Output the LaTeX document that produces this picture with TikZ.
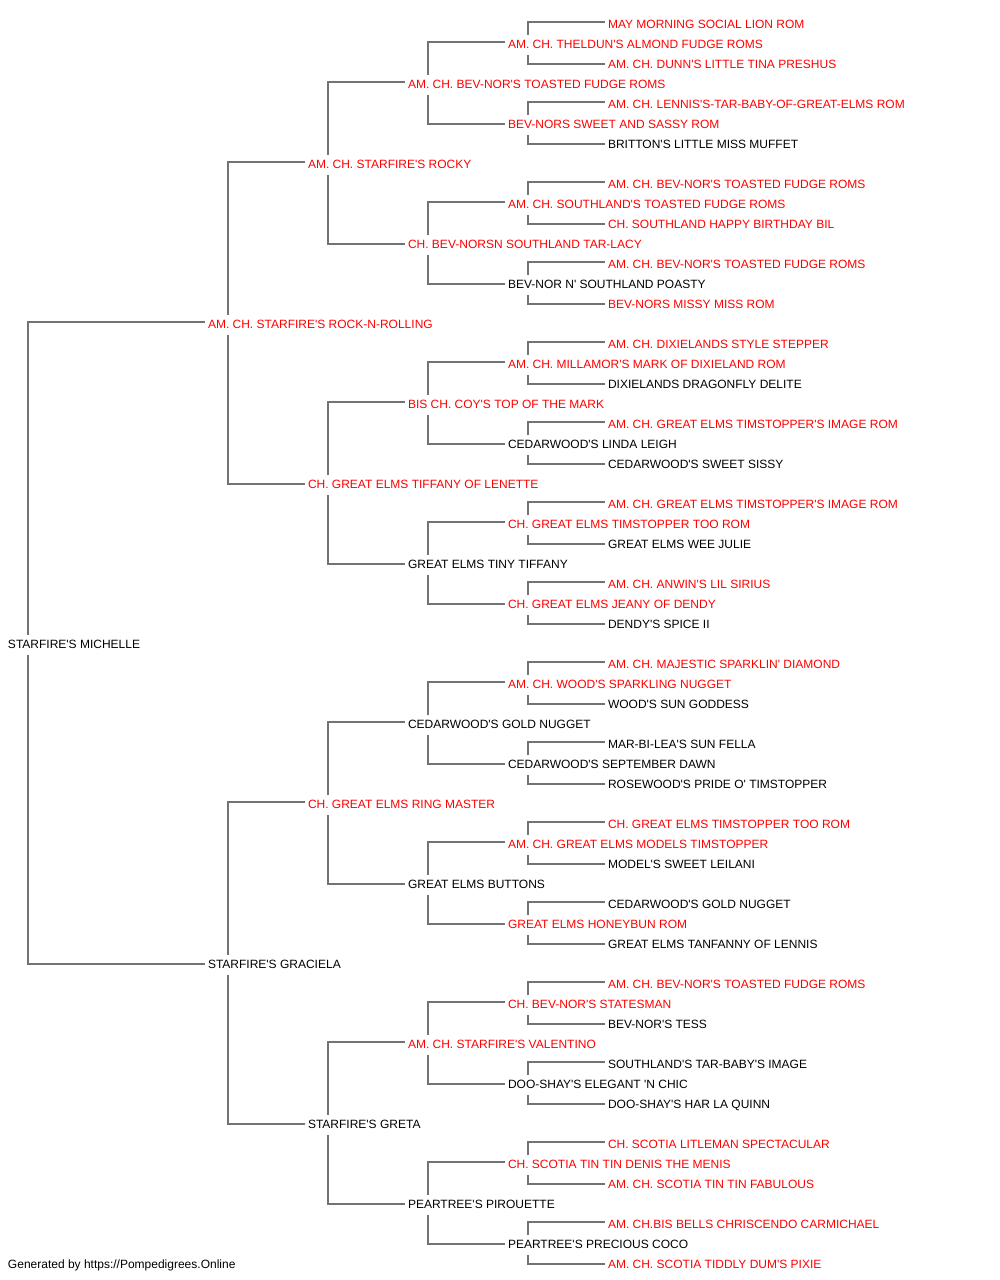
\documentclass[tikz,border=0pt]{standalone}
\usepackage{fontspec}
\setmainfont{Liberation Sans}[Ligatures=TeXOff]
\usetikzlibrary{calc}
\definecolor{linegray}{HTML}{737373}
\definecolor{namered}{HTML}{FF0000}
\tikzset{
  pedname/.style={anchor=base west, inner sep=0pt, outer sep=0pt, font=\fontsize{12}{14}\selectfont},
  redname/.style={pedname, text=namered},
  blackname/.style={pedname, text=black},
  conn/.style={draw=linegray, line width=1.7pt},
}
\newcommand\pedbrk[3]{%
  \draw[conn] ($(#1.base west)+(20,-13.3)$) |- ($(#2.base west)+(-3,-6.3)$);
  \draw[conn] ($(#1.base west)+(20,6.7)$) |- ($(#3.base west)+(-3,-4.3)$);
}
\begin{document}
\begin{tikzpicture}[x=1pt,y=-1pt]
\useasboundingbox (0,0) rectangle (1000,1280);
\node[redname] (n0) at (608,28.3) {MAY MORNING SOCIAL LION ROM};
\node[redname] (n1) at (508,48.3) {AM. CH. THELDUN'S ALMOND FUDGE ROMS};
\node[redname] (n2) at (608,68.3) {AM. CH. DUNN'S LITTLE TINA PRESHUS};
\node[redname] (n3) at (408,88.3) {AM. CH. BEV-NOR'S TOASTED FUDGE ROMS};
\node[redname] (n4) at (608,108.3) {AM. CH. LENNIS'S-TAR-BABY-OF-GREAT-ELMS ROM};
\node[redname] (n5) at (508,128.3) {BEV-NORS SWEET AND SASSY ROM};
\node[blackname] (n6) at (608,148.3) {BRITTON'S LITTLE MISS MUFFET};
\node[redname] (n7) at (308,168.3) {AM. CH. STARFIRE'S ROCKY};
\node[redname] (n8) at (608,188.3) {AM. CH. BEV-NOR'S TOASTED FUDGE ROMS};
\node[redname] (n9) at (508,208.3) {AM. CH. SOUTHLAND'S TOASTED FUDGE ROMS};
\node[redname] (n10) at (608,228.3) {CH. SOUTHLAND HAPPY BIRTHDAY BIL};
\node[redname] (n11) at (408,248.3) {CH. BEV-NORSN SOUTHLAND TAR-LACY};
\node[redname] (n12) at (608,268.3) {AM. CH. BEV-NOR'S TOASTED FUDGE ROMS};
\node[blackname] (n13) at (508,288.3) {BEV-NOR N' SOUTHLAND POASTY};
\node[redname] (n14) at (608,308.3) {BEV-NORS MISSY MISS ROM};
\node[redname] (n15) at (208,328.3) {AM. CH. STARFIRE'S ROCK-N-ROLLING};
\node[redname] (n16) at (608,348.3) {AM. CH. DIXIELANDS STYLE STEPPER};
\node[redname] (n17) at (508,368.3) {AM. CH. MILLAMOR'S MARK OF DIXIELAND ROM};
\node[blackname] (n18) at (608,388.3) {DIXIELANDS DRAGONFLY DELITE};
\node[redname] (n19) at (408,408.3) {BIS CH. COY'S TOP OF THE MARK};
\node[redname] (n20) at (608,428.3) {AM. CH. GREAT ELMS TIMSTOPPER'S IMAGE ROM};
\node[blackname] (n21) at (508,448.3) {CEDARWOOD'S LINDA LEIGH};
\node[blackname] (n22) at (608,468.3) {CEDARWOOD'S SWEET SISSY};
\node[redname] (n23) at (308,488.3) {CH. GREAT ELMS TIFFANY OF LENETTE};
\node[redname] (n24) at (608,508.3) {AM. CH. GREAT ELMS TIMSTOPPER'S IMAGE ROM};
\node[redname] (n25) at (508,528.3) {CH. GREAT ELMS TIMSTOPPER TOO ROM};
\node[blackname] (n26) at (608,548.3) {GREAT ELMS WEE JULIE};
\node[blackname] (n27) at (408,568.3) {GREAT ELMS TINY TIFFANY};
\node[redname] (n28) at (608,588.3) {AM. CH. ANWIN'S LIL SIRIUS};
\node[redname] (n29) at (508,608.3) {CH. GREAT ELMS JEANY OF DENDY};
\node[blackname] (n30) at (608,628.3) {DENDY'S SPICE II};
\node[blackname] (n31) at (8,648.3) {STARFIRE'S MICHELLE};
\node[redname] (n32) at (608,668.3) {AM. CH. MAJESTIC SPARKLIN' DIAMOND};
\node[redname] (n33) at (508,688.3) {AM. CH. WOOD'S SPARKLING NUGGET};
\node[blackname] (n34) at (608,708.3) {WOOD'S SUN GODDESS};
\node[blackname] (n35) at (408,728.3) {CEDARWOOD'S GOLD NUGGET};
\node[blackname] (n36) at (608,748.3) {MAR-BI-LEA'S SUN FELLA};
\node[blackname] (n37) at (508,768.3) {CEDARWOOD'S SEPTEMBER DAWN};
\node[blackname] (n38) at (608,788.3) {ROSEWOOD'S PRIDE O' TIMSTOPPER};
\node[redname] (n39) at (308,808.3) {CH. GREAT ELMS RING MASTER};
\node[redname] (n40) at (608,828.3) {CH. GREAT ELMS TIMSTOPPER TOO ROM};
\node[redname] (n41) at (508,848.3) {AM. CH. GREAT ELMS MODELS TIMSTOPPER};
\node[blackname] (n42) at (608,868.3) {MODEL'S SWEET LEILANI};
\node[blackname] (n43) at (408,888.3) {GREAT ELMS BUTTONS};
\node[blackname] (n44) at (608,908.3) {CEDARWOOD'S GOLD NUGGET};
\node[redname] (n45) at (508,928.3) {GREAT ELMS HONEYBUN ROM};
\node[blackname] (n46) at (608,948.3) {GREAT ELMS TANFANNY OF LENNIS};
\node[blackname] (n47) at (208,968.3) {STARFIRE'S GRACIELA};
\node[redname] (n48) at (608,988.3) {AM. CH. BEV-NOR'S TOASTED FUDGE ROMS};
\node[redname] (n49) at (508,1008.3) {CH. BEV-NOR'S STATESMAN};
\node[blackname] (n50) at (608,1028.3) {BEV-NOR'S TESS};
\node[redname] (n51) at (408,1048.3) {AM. CH. STARFIRE'S VALENTINO};
\node[blackname] (n52) at (608,1068.3) {SOUTHLAND'S TAR-BABY'S IMAGE};
\node[blackname] (n53) at (508,1088.3) {DOO-SHAY'S ELEGANT 'N CHIC};
\node[blackname] (n54) at (608,1108.3) {DOO-SHAY'S HAR LA QUINN};
\node[blackname] (n55) at (308,1128.3) {STARFIRE'S GRETA};
\node[redname] (n56) at (608,1148.3) {CH. SCOTIA LITLEMAN SPECTACULAR};
\node[redname] (n57) at (508,1168.3) {CH. SCOTIA TIN TIN DENIS THE MENIS};
\node[redname] (n58) at (608,1188.3) {AM. CH. SCOTIA TIN TIN FABULOUS};
\node[blackname] (n59) at (408,1208.3) {PEARTREE'S PIROUETTE};
\node[redname] (n60) at (608,1228.3) {AM. CH.BIS BELLS CHRISCENDO CARMICHAEL};
\node[blackname] (n61) at (508,1248.3) {PEARTREE'S PRECIOUS COCO};
\node[redname] (n62) at (608,1268.3) {AM. CH. SCOTIA TIDDLY DUM'S PIXIE};
\node[blackname] (footer) at (8,1268.3) {Generated by https://Pompedigrees.Online};
% connectors
\foreach \p in {1,5,9,13,17,21,25,29,33,37,41,45,49,53,57,61} {
  \pgfmathtruncatemacro\u{\p-1}\pgfmathtruncatemacro\l{\p+1}
  \pedbrk{n\p}{n\u}{n\l}
}
\foreach \p in {3,11,19,27,35,43,51,59} {
  \pgfmathtruncatemacro\u{\p-2}\pgfmathtruncatemacro\l{\p+2}
  \pedbrk{n\p}{n\u}{n\l}
}
\foreach \p in {7,23,39,55} {
  \pgfmathtruncatemacro\u{\p-4}\pgfmathtruncatemacro\l{\p+4}
  \pedbrk{n\p}{n\u}{n\l}
}
\foreach \p in {15,47} {
  \pgfmathtruncatemacro\u{\p-8}\pgfmathtruncatemacro\l{\p+8}
  \pedbrk{n\p}{n\u}{n\l}
}
\pedbrk{n31}{n15}{n47}
\end{tikzpicture}
\end{document}
